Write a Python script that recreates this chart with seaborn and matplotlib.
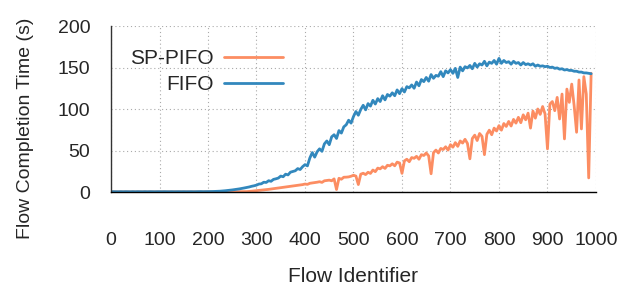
import matplotlib.pyplot as plt
import numpy as np
import pandas as pd
import seaborn as sns

flow_ids = np.arange(0, 995, 5)

fifo_fct = [
    0.3, 0.4, 0.3, 0.3, 0.4, 0.3, 0.4, 0.3, 0.3, 0.4, 0.3, 0.4, 0.3, 0.3, 0.4, 0.3, 0.4, 0.3, 0.3, 0.4,
    0.4, 0.3, 0.4, 0.3, 0.3, 0.4, 0.3, 0.4, 0.4, 0.3, 0.4, 0.3, 0.4, 0.4, 0.3, 0.4, 0.4, 0.5, 0.4, 0.5,
    0.5, 0.5, 0.6, 0.7, 0.8, 1.0, 1.2, 1.5, 1.8, 2.1, 2.5, 2.9, 3.3, 3.8, 4.3, 4.9, 5.5, 6.1, 6.9, 7.5,
    8.3, 9.6, 9.9, 11.8, 11.5, 13.6, 12.9, 15.2, 15.9, 16.8, 19.2, 18.4, 21.5, 20.6, 23.9, 24.8, 25.6, 28.2, 27.1, 30.5,
    33.0, 31.5, 41.0, 47.5, 42.0, 48.5, 52.0, 49.0, 58.0, 61.5, 57.0, 66.5, 69.0, 64.5, 74.0, 71.0, 78.5, 81.0, 86.5, 83.0,
    91.0, 97.0, 92.5, 99.5, 104.5, 99.0, 106.5, 103.5, 110.5, 106.0, 112.5, 109.0, 116.0, 111.0, 117.5, 115.5, 119.5, 116.0, 123.0, 118.5,
    124.5, 120.5, 127.0, 125.5, 129.0, 125.0, 132.5, 128.0, 135.5, 133.0, 138.0, 133.5, 141.5, 137.0, 140.5, 139.5, 145.0, 139.0, 146.0, 143.5,
    147.5, 143.0, 149.0, 138.0, 150.5, 146.0, 151.0, 149.5, 152.5, 148.5, 155.0, 150.5, 154.5, 153.0, 157.5, 152.0, 156.5, 155.0, 158.5, 154.0,
    161.0, 155.0, 158.5, 156.0, 157.0, 154.0, 157.5, 155.0, 156.0, 153.0, 156.0, 153.5, 154.5, 153.0, 154.5, 151.5, 153.0, 151.5, 152.0, 151.0,
    151.5, 150.0, 150.5, 149.0, 149.5, 148.0, 148.5, 147.0, 147.5, 146.5, 146.5, 145.5, 145.5, 144.5, 144.5, 143.5, 143.5, 143.0, 142.5,
]

sppifo_fct = [
    0.2, 0.3, 0.2, 0.2, 0.3, 0.2, 0.3, 0.2, 0.2, 0.3, 0.2, 0.3, 0.2, 0.2, 0.3, 0.2, 0.3, 0.2, 0.2, 0.3,
    0.2, 0.3, 0.2, 0.2, 0.3, 0.2, 0.3, 0.2, 0.2, 0.3, 0.2, 0.3, 0.2, 0.2, 0.3, 0.2, 0.3, 0.2, 0.2, 0.3,
    0.2, 0.2, 0.2, 0.3, 0.2, 0.3, 0.3, 0.3, 0.3, 0.3, 0.3, 0.4, 0.4, 0.4, 0.4, 0.5, 0.5, 0.7, 1.0, 1.3,
    1.6, 1.9, 2.2, 2.5, 2.9, 3.2, 3.6, 3.9, 4.3, 4.7, 5.1, 5.5, 5.9, 6.3, 6.7, 7.1, 7.6, 8.0, 8.4, 8.9,
    9.6, 9.2, 10.5, 10.9, 11.2, 11.8, 12.4, 11.6, 13.5, 13.9, 14.3, 13.5, 15.8, 3.0, 16.5, 15.4, 17.8, 17.9, 18.2, 19.0,
    20.2, 19.2, 9.0, 21.5, 22.6, 21.0, 23.8, 22.4, 26.5, 24.5, 28.8, 27.9, 30.5, 28.4, 32.2, 31.5, 34.0, 31.6, 36.0, 35.0,
    22.5, 37.5, 39.5, 36.5, 41.5, 40.6, 43.0, 39.5, 45.0, 44.0, 47.0, 43.5, 22.0, 47.5, 50.5, 47.0, 52.5, 51.2, 54.5, 50.5,
    57.0, 54.0, 59.5, 55.0, 61.5, 59.0, 63.5, 58.5, 40.0, 64.5, 68.5, 62.0, 70.5, 67.0, 45.0, 69.5, 74.5, 69.0, 77.0, 73.5,
    80.0, 74.5, 82.5, 79.0, 85.0, 79.5, 87.5, 83.0, 90.0, 83.5, 93.0, 87.0, 95.0, 77.0, 97.5, 89.0, 100.0, 93.5, 103.0, 94.0,
    52.0, 106.0, 109.0, 98.0, 114.0, 88.0, 118.0, 64.0, 124.0, 108.0, 130.0, 104.0, 72.0, 135.0, 76.0, 139.0, 118.0, 17.0, 143.0,
]

series_names = ["SP-PIFO", "FIFO"]
series_colors = ["#fc8d62", "#3288bd"]
x_ticks = list(range(0, 1001, 100))
y_ticks = [0, 50, 100, 150, 200]

df = pd.concat([
    pd.DataFrame({"flow": flow_ids, "fct": sppifo_fct, "scheme": "SP-PIFO"}),
    pd.DataFrame({"flow": flow_ids, "fct": fifo_fct, "scheme": "FIFO"}),
])

sns.set_style("white")
plt.rcParams["font.family"] = ["Liberation Sans", "DejaVu Sans"]

fig = plt.figure(figsize=(6.3, 2.89), dpi=100)
ax = fig.add_axes([0.1762, 0.3356, 0.7698, 0.5744])

sns.lineplot(
    data=df, x="flow", y="fct", hue="scheme",
    hue_order=series_names, palette=series_colors,
    linewidth=2.0, ax=ax, legend=False,
)

ax.set_xlim(0, 1000)
ax.set_ylim(0, 200)
ax.set_xticks(x_ticks)
ax.set_yticks(y_ticks)
ax.grid(True, color="#aaaaaa", linestyle=(0, (1, 2.5)), linewidth=0.8)
ax.set_axisbelow(True)

for side in ["top", "right"]:
    ax.spines[side].set_visible(False)
ax.spines["left"].set_color("#333333")
ax.spines["bottom"].set_color("black")
ax.spines["left"].set_linewidth(1.0)
ax.spines["bottom"].set_linewidth(1.0)

ax.tick_params(axis="x", direction="out", length=6, width=1, color="#666666",
               pad=23, labelsize=14)
ax.tick_params(axis="y", direction="out", length=6, width=1, color="#444444",
               pad=9, labelsize=14)

ax.set_xlabel("Flow Identifier", fontsize=15, labelpad=13)
ax.set_ylabel("Flow Completion Time (s)", fontsize=14)
# the y label sits a bit below the axes centre in the reference
ax.yaxis.set_label_coords(-0.159, 0.383)

handles = [plt.Line2D([], [], color=c, linewidth=2) for c in series_colors]
ax.legend(handles, series_names, loc="upper left", bbox_to_anchor=(0.0, 0.975),
          frameon=False, markerfirst=False, fontsize=15, handlelength=2.85,
          handletextpad=0.5, labelspacing=0.35)

fig.savefig("out.png", dpi=100)
